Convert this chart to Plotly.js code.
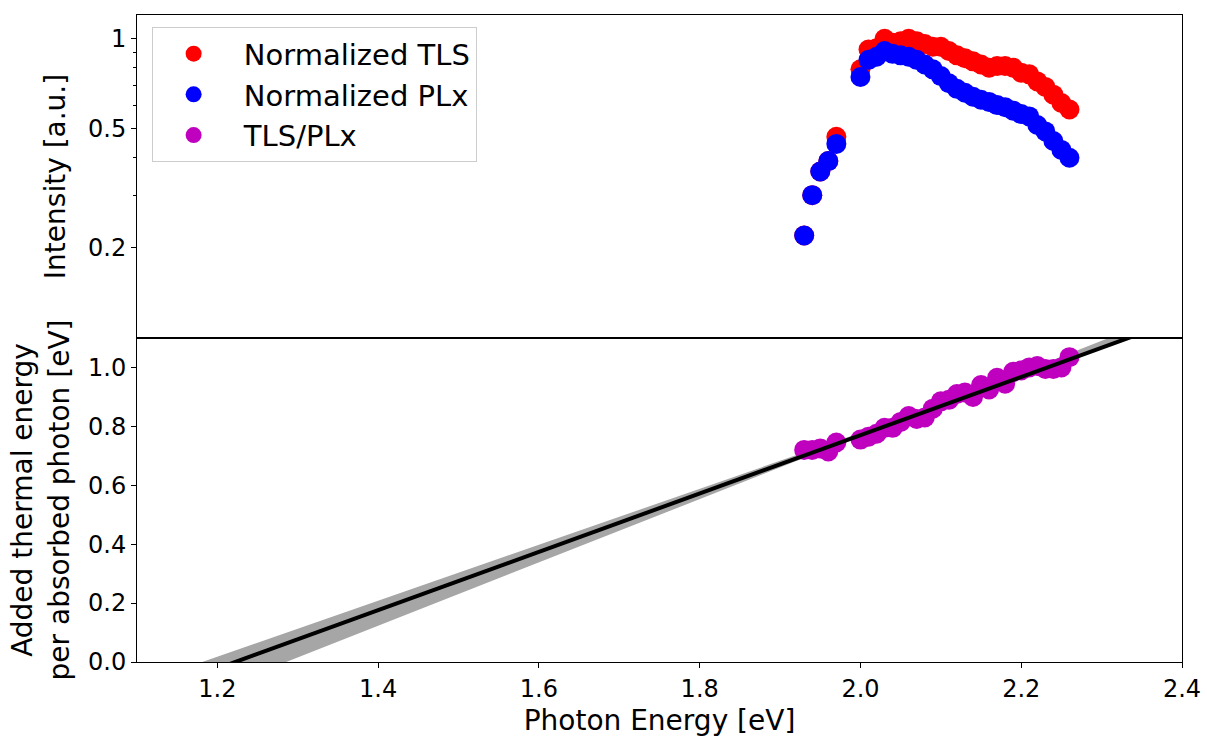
<!DOCTYPE html>
<html>
<head>
<meta charset="utf-8">
<script src="https://cdn.plot.ly/plotly-3.0.1.min.js"></script>
<style>
  html, body { margin: 0; padding: 0; background: #ffffff; }
  #chart { width: 1207px; height: 738px; }
</style>
</head>
<body>
<div id="chart"></div>
<script>
// ---- data ----
const energy = [1.93, 1.94, 1.95, 1.96, 1.97,
  2.00, 2.01, 2.02, 2.03, 2.04, 2.05, 2.06, 2.07, 2.08, 2.09,
  2.10, 2.11, 2.12, 2.13, 2.14, 2.15, 2.16, 2.17, 2.18, 2.19,
  2.20, 2.21, 2.22, 2.23, 2.24, 2.25, 2.26];

const normalizedTLS = [0.22, 0.30, 0.36, 0.39, 0.47,
  0.79, 0.92, 0.93, 1.00, 0.97, 0.98, 1.00, 0.98, 0.96, 0.94,
  0.94, 0.91, 0.88, 0.86, 0.84, 0.82, 0.80, 0.81, 0.81, 0.80,
  0.77, 0.76, 0.72, 0.69, 0.65, 0.61, 0.58];

const normalizedPLx = [0.22, 0.30, 0.36, 0.39, 0.445,
  0.745, 0.85, 0.87, 0.91, 0.89, 0.88, 0.87, 0.85, 0.82, 0.79,
  0.75, 0.71, 0.68, 0.66, 0.64, 0.625, 0.615, 0.60, 0.59, 0.575,
  0.56, 0.55, 0.515, 0.49, 0.455, 0.425, 0.40];

const thermalEnergy = [0.72, 0.72, 0.725, 0.715, 0.745,
  0.755, 0.765, 0.775, 0.795, 0.795, 0.815, 0.835, 0.825, 0.83, 0.86,
  0.885, 0.89, 0.91, 0.915, 0.90, 0.94, 0.925, 0.965, 0.945, 0.985,
  0.99, 1.00, 1.005, 0.995, 0.995, 1.00, 1.035];

// linear fit (slope, intercept) and its confidence band edges
const fitParams = [0.99, -1.21];
const bandUpperParams = [0.95, -1.122];
const bandLowerParams = [1.075, -1.382];
const fitSpan = [1.1, 2.4];

const xTickVals = [1.2, 1.4, 1.6, 1.8, 2.0, 2.2, 2.4];
const topTickVals = [0.2, 0.5, 1];
const topTickText = ['0.2', '0.5', '1'];
const topMinorVals = [0.3, 0.4, 0.6, 0.7, 0.8, 0.9];
const bottomTickVals = [0.0, 0.2, 0.4, 0.6, 0.8, 1.0];
const seriesNames = ['Normalized TLS', 'Normalized PLx', 'TLS/PLx'];

// ---- derived ----
const lin = (p, x) => p[0] * x + p[1];
const fitY = fitSpan.map(x => lin(fitParams, x));
const bandX = [fitSpan[0], fitSpan[1], fitSpan[1], fitSpan[0], fitSpan[0]];
const bandY = [lin(bandUpperParams, fitSpan[0]), lin(bandUpperParams, fitSpan[1]),
               lin(bandLowerParams, fitSpan[1]), lin(bandLowerParams, fitSpan[0]),
               lin(bandUpperParams, fitSpan[0])];

const FONT = 'DejaVu Sans, Verdana, sans-serif';
const MS = 20;
const pad = '\u00a0';

const traces = [
  { x: energy, y: normalizedTLS, xaxis: 'x2', yaxis: 'y2', type: 'scatter', mode: 'markers',
    name: pad + seriesNames[0], legendgroup: 'a',
    marker: { color: '#ff0000', size: MS, line: { width: 0 } } },
  { x: energy, y: normalizedPLx, xaxis: 'x2', yaxis: 'y2', type: 'scatter', mode: 'markers',
    name: pad + seriesNames[1], legendgroup: 'b',
    marker: { color: '#0000ff', size: MS, line: { width: 0 } } },
  { x: bandX, y: bandY, xaxis: 'x', yaxis: 'y', type: 'scatter', mode: 'lines',
    fill: 'toself', fillcolor: '#a6a6a6', line: { width: 0, color: '#a6a6a6' },
    showlegend: false, hoverinfo: 'skip' },
  { x: energy, y: thermalEnergy, xaxis: 'x', yaxis: 'y', type: 'scatter', mode: 'markers',
    name: pad + seriesNames[2], legendgroup: 'c',
    marker: { color: '#bf00bf', size: MS, line: { width: 0 } } },
  { x: fitSpan, y: fitY, xaxis: 'x', yaxis: 'y', type: 'scatter', mode: 'lines',
    line: { color: '#000000', width: 4 }, showlegend: false, hoverinfo: 'skip' }
];

const axisCommon = {
  showgrid: false, zeroline: false, showline: true, linecolor: '#000000', linewidth: 1,
  mirror: true, ticks: 'outside', ticklen: 5, tickwidth: 1, tickcolor: '#000000',
  tickfont: { family: FONT, size: 24, color: '#000000' }
};

const layout = {
  width: 1207, height: 738,
  paper_bgcolor: '#ffffff', plot_bgcolor: '#ffffff',
  margin: { l: 137, r: 25, t: 15, b: 76 },
  font: { family: FONT, size: 24, color: '#000000' },
  showlegend: true,
  legend: {
    x: 0.014, y: 0.981, xanchor: 'left', yanchor: 'top',
    bgcolor: '#ffffff', bordercolor: '#cccccc', borderwidth: 1,
    font: { family: FONT, size: 29, color: '#000000' },
    itemwidth: 72, tracegroupgap: 9, traceorder: 'normal'
  },
  xaxis: Object.assign({}, axisCommon, {
    domain: [0, 1], anchor: 'y', range: [1.1, 2.4],
    tickmode: 'array', tickvals: xTickVals, tickformat: '.1f',
    title: { text: 'Photon Energy [eV]', font: { family: FONT, size: 28, color: '#000000' }, standoff: 8 }
  }),
  yaxis: Object.assign({}, axisCommon, {
    domain: [0, 0.5008], anchor: 'x', range: [0, 1.1],
    tickmode: 'array', tickvals: bottomTickVals, tickformat: '.1f',
    title: { text: 'Added thermal energy<br>per absorbed photon [eV]',
             font: { family: FONT, size: 28, color: '#000000' }, standoff: 10 }
  }),
  xaxis2: Object.assign({}, axisCommon, {
    domain: [0, 1], anchor: 'y2', matches: 'x', range: [1.1, 2.4],
    tickmode: 'array', tickvals: xTickVals, showticklabels: false, ticks: ''
  }),
  yaxis2: Object.assign({}, axisCommon, {
    domain: [0.5008, 1], anchor: 'x2', type: 'log',
    range: [Math.log10(0.1), Math.log10(1.2)],
    tickmode: 'array', tickvals: topTickVals, ticktext: topTickText,
    minor: { tickmode: 'array', tickvals: topMinorVals, ticks: 'outside', ticklen: 3, tickcolor: '#000000', showgrid: false },
    title: { text: 'Intensity [a.u.]', font: { family: FONT, size: 28, color: '#000000' }, standoff: 14 }
  })
};

Plotly.newPlot('chart', traces, layout, { displayModeBar: false, staticPlot: true });
</script>
</body>
</html>
